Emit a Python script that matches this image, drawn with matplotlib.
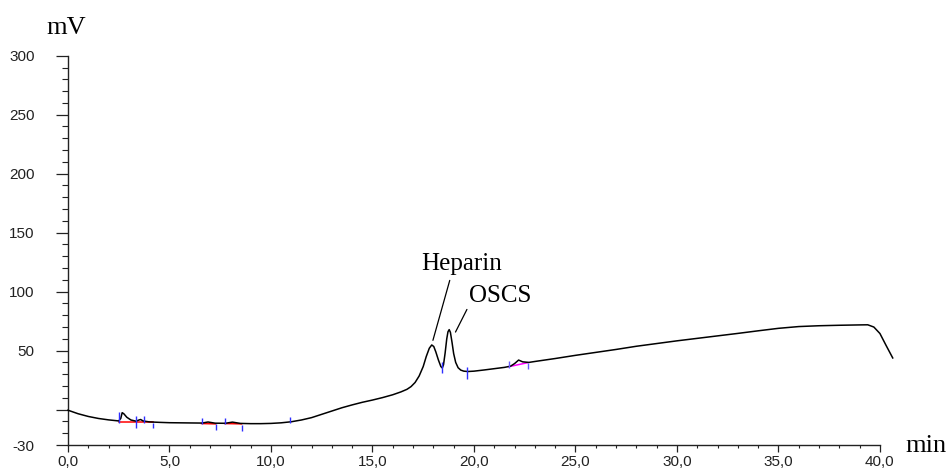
# -*- coding: utf-8 -*-
"""
Chromatogram trace with integration marks (Heparin / OSCS)
"""
#%% Import libraries
import matplotlib
matplotlib.use("Agg")
import matplotlib.pyplot as plt
from matplotlib.ticker import MultipleLocator, FixedLocator, FuncFormatter

#%% Data
# Detector signal (min, mV)
time_min = [0.0, 0.5, 1.0, 1.5, 2.0, 2.5, 2.6, 2.67, 2.75, 2.9, 3.1, 3.35, 3.5, 3.58, 3.7,
            4.0, 4.5, 5.0, 6.0, 6.6, 6.9, 7.25, 7.75, 8.1, 8.5, 9.0, 9.5, 10.0, 10.5, 11.0,
            11.5, 12.0, 12.5, 13.0, 13.5, 14.0, 14.5, 15.0, 15.5, 16.0, 16.4, 16.7, 16.9,
            17.1, 17.3, 17.5, 17.65, 17.8, 17.92, 18.02, 18.12, 18.25, 18.37, 18.44, 18.5,
            18.58, 18.66, 18.72, 18.78, 18.84, 18.92, 19.0, 19.1, 19.22, 19.35, 19.5, 19.7,
            20.0, 20.5, 21.0, 21.5, 21.8, 22.0, 22.2, 22.4,
            22.7, 23.0, 24.0, 25.0, 26.0, 27.0, 28.0, 29.0, 30.0, 31.0, 32.0, 33.0, 34.0,
            35.0, 36.0, 37.0, 38.0, 39.0, 39.4, 39.7, 40.0, 40.3, 40.63]
signal_mv = [-0.5, -3.5, -5.8, -7.5, -8.7, -9.6, -7.5, -2.6, -3.5, -6.5, -8.8, -9.8, -8.8, -8.4, -9.6,
             -10.4, -10.8, -11.1, -11.3, -11.4, -10.5, -11.5, -11.6, -10.6, -11.7, -11.9, -11.9, -11.7, -11.2, -10.3,
             -8.8, -6.8, -4.0, -1.2, 1.6, 4.0, 6.2, 8.1, 10.2, 12.6, 15.0, 17.2, 19.5,
             23.0, 28.5, 36.5, 45.0, 52.0, 54.8, 53.5, 49.0, 42.0, 36.5, 35.3, 38.0,
             48.0, 60.0, 66.0, 67.8, 65.5, 57.0, 47.5, 40.0, 35.5, 33.5, 32.6, 32.3,
             32.6, 33.6, 34.7, 35.8, 36.8, 39.0, 42.0, 40.5,
             40.0, 40.8, 43.3, 46.0, 48.5, 51.0, 53.7, 56.0, 58.3, 60.4, 62.5, 64.6, 66.8,
             68.9, 70.4, 71.1, 71.5, 71.8, 71.9, 70.0, 64.5, 54.5, 43.8]

# Peak start/end marks (min, low mV, high mV)
mark_time = [2.52, 3.35, 3.76, 4.2, 6.58, 7.27, 7.73, 8.55, 10.95, 18.44, 19.67]
mark_low = [-11.3, -15.3, -11.3, -16.0, -12.1, -17.2, -12.1, -17.8, -11.0, 30.8, 26.3]
mark_high = [-2.0, -5.3, -5.3, -11.3, -7.3, -12.1, -7.3, -13.0, -5.9, 40.7, 36.2]

mark2_time = [21.72, 22.65]
mark2_low = [35.6, 34.2]
mark2_high = [41.3, 39.8]

# Baselines drawn under integrated peaks
base_t0 = [2.52, 6.58, 7.73]
base_t1 = [4.2, 7.27, 8.55]
base_v0 = [-10.9, -11.8, -11.8]
base_v1 = [-10.9, -12.1, -12.1]
base2_t = [21.72, 22.65]
base2_v = [36.4, 39.8]

# Peak labels
peak_names = ["Heparin", "OSCS"]
peak_time = [17.96, 19.06]
peak_mv = [57.6, 64.7]

#%% Plot
serif = ["Liberation Serif", "DejaVu Serif"]
sans = ["Liberation Sans", "DejaVu Sans"]

fig = plt.figure(figsize=(9.48, 4.71), dpi=100)
ax = fig.add_axes([0.0717, 0.0552, 0.8565, 0.8265])

ax.plot(time_min, signal_mv, color="black", lw=1.1, clip_on=False, zorder=3)

ax.vlines(mark_time, mark_low, mark_high, color="#2f2fff", lw=1.0, zorder=4)
ax.vlines(mark2_time, mark2_low, mark2_high, color="#6a5cff", lw=1.0, zorder=4)
for t0, t1, v0, v1 in zip(base_t0, base_t1, base_v0, base_v1):
    ax.plot([t0, t1], [v0, v1], color="red", lw=1.1, zorder=2)
ax.plot(base2_t, base2_v, color="#ff00ff", lw=1.1, zorder=2)

# Heparin label with leader line
ax.annotate(peak_names[0], xy=(peak_time[0], peak_mv[0]), xytext=(19.4, 118.4),
            textcoords="data", ha="center", va="baseline", fontsize=18, family=serif,
            arrowprops=dict(arrowstyle="-", color="black", lw=0.9,
                            relpos=(0.37, 0.0), shrinkA=2, shrinkB=1))
# OSCS label
ax.annotate(peak_names[1], xy=(peak_time[1], peak_mv[1]), xytext=(21.28, 91.5),
            textcoords="data", ha="center", va="baseline", fontsize=18, family=serif,
            arrowprops=dict(arrowstyle="-", color="black", lw=0.9,
                            relpos=(0.02, 0.15), shrinkA=0, shrinkB=1))

#%% Axes style
ax.set_xlim(0, 40)
ax.set_ylim(-30, 300)
for side in ["top", "right"]:
    ax.spines[side].set_visible(False)
for side in ["left", "bottom"]:
    ax.spines[side].set_color("#222222")
    ax.spines[side].set_linewidth(1.0)

ax.xaxis.set_major_locator(MultipleLocator(5))
ax.xaxis.set_minor_locator(MultipleLocator(1))
ax.xaxis.set_major_formatter(FuncFormatter(lambda v, p: f"{v:.1f}".replace(".", ",")))

y_major = [-30, 0, 50, 100, 150, 200, 250, 300]
ax.yaxis.set_major_locator(FixedLocator(y_major))
ax.yaxis.set_minor_locator(MultipleLocator(10))
ax.yaxis.set_major_formatter(FuncFormatter(lambda v, p: "" if v == 0 else f"{v:.0f}"))

ax.tick_params(axis="x", which="major", length=4.8, width=0.9, pad=2.5,
               labelsize=11, colors="#222222")
ax.tick_params(axis="x", which="minor", length=2.4, width=0.8, colors="#222222")
ax.tick_params(axis="y", which="major", length=8.4, width=0.9, pad=15.5,
               labelsize=11, colors="#222222")
ax.tick_params(axis="y", which="minor", length=4.1, width=0.8, colors="#222222")
for lbl in ax.get_xticklabels() + ax.get_yticklabels():
    lbl.set_family(sans)

# Units
fig.text(66 / 948, 1 - 34.3 / 471, "mV", ha="center", va="baseline", fontsize=19, family=serif)
fig.text(905 / 948, 1 - 451.7 / 471, "min", ha="left", va="baseline", fontsize=19, family=serif)

fig.savefig("out.png", dpi=100)
